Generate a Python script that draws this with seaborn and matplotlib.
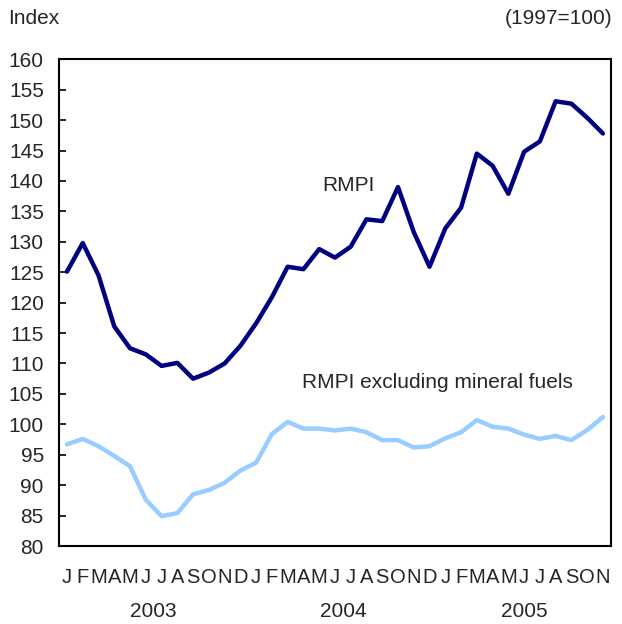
import numpy as np
import pandas as pd
import matplotlib
matplotlib.use("Agg")
import matplotlib.pyplot as plt
import seaborn as sns

# --- data (monthly, Jan 2003 - Nov 2005) ---
month_letters = ["J", "F", "M", "A", "M", "J", "J", "A", "S", "O", "N", "D"]
years = ["2003", "2004", "2005"]

rmpi = [125.1, 129.8, 124.5, 116.1, 112.5, 111.5, 109.6, 110.1, 107.5, 108.5, 110.0, 112.9,
        116.6, 120.9, 125.9, 125.5, 128.8, 127.4, 129.2, 133.7, 133.4, 139.0, 131.6, 125.9,
        132.2, 135.6, 144.5, 142.5, 137.9, 144.8, 146.5, 153.1, 152.7, 150.4, 147.8]

rmpi_ex_fuels = [96.7, 97.6, 96.4, 94.8, 93.1, 87.6, 84.9, 85.4, 88.5, 89.2, 90.4, 92.4,
                 93.7, 98.4, 100.4, 99.3, 99.3, 99.0, 99.3, 98.7, 97.4, 97.4, 96.2, 96.4,
                 97.7, 98.7, 100.7, 99.6, 99.3, 98.3, 97.6, 98.1, 97.4, 99.05, 101.2]

n = len(rmpi)
month = np.arange(n)
df = pd.DataFrame({
    "month": np.concatenate([month, month]),
    "value": rmpi + rmpi_ex_fuels,
    "series": ["RMPI"] * n + ["RMPI excluding mineral fuels"] * n,
})

# --- plot ---
sns.set_theme(style="white")
plt.rcParams["font.family"] = ["Liberation Sans", "DejaVu Sans"]

fig = plt.figure(figsize=(6.22, 6.24), dpi=100)
ax = fig.add_axes([0.095, 0.125, 0.887, 0.78])

sns.lineplot(data=df, x="month", y="value", hue="series",
             palette={"RMPI": "#000080", "RMPI excluding mineral fuels": "#99CCFF"},
             linewidth=3.2, legend=False, ax=ax)

ax.set_xlim(-0.5, n - 0.5)
ax.set_ylim(80, 160)
ax.set_yticks(np.arange(80, 161, 5))
ax.set_xlabel("")
ax.set_ylabel("")

# month ticks at the boundaries, letters in the middle
ax.set_xticks(np.arange(0.5, n - 0.5, 1))
ax.set_xticklabels([])
ax.set_xticks(month, minor=True)
ax.set_xticklabels([month_letters[i % 12] for i in month], minor=True,
                   family=["Liberation Sans Narrow", "Liberation Sans"], fontsize=14.5)
ax.tick_params(axis="x", which="major", direction="in", length=5, width=1.2, color="black")
ax.tick_params(axis="x", which="minor", length=0, pad=16)
ax.tick_params(axis="y", direction="in", length=5, width=1.2, color="black",
               labelsize=15, pad=11, left=True)

for s in ax.spines.values():
    s.set_color("black")
    s.set_linewidth(1.5)

# year labels under the months
for yr, pos in zip(years, [5.5, 17.5, 29]):
    ax.text(pos, -0.1356, yr, transform=ax.get_xaxis_transform(),
            ha="center", va="center", fontsize=15)

# series labels
ax.text(19.5, 139.3, "RMPI", ha="right", va="center", fontsize=15)
ax.text(14.9, 106.9, "RMPI excluding mineral fuels", ha="left", va="center", fontsize=15)

fig.text(8 / 622, 1 - 19 / 624, "Index", ha="left", va="center", fontsize=15)
fig.text(612 / 622, 1 - 19 / 624, "(1997=100)", ha="right", va="center", fontsize=15)

fig.savefig("out.png", dpi=100)
